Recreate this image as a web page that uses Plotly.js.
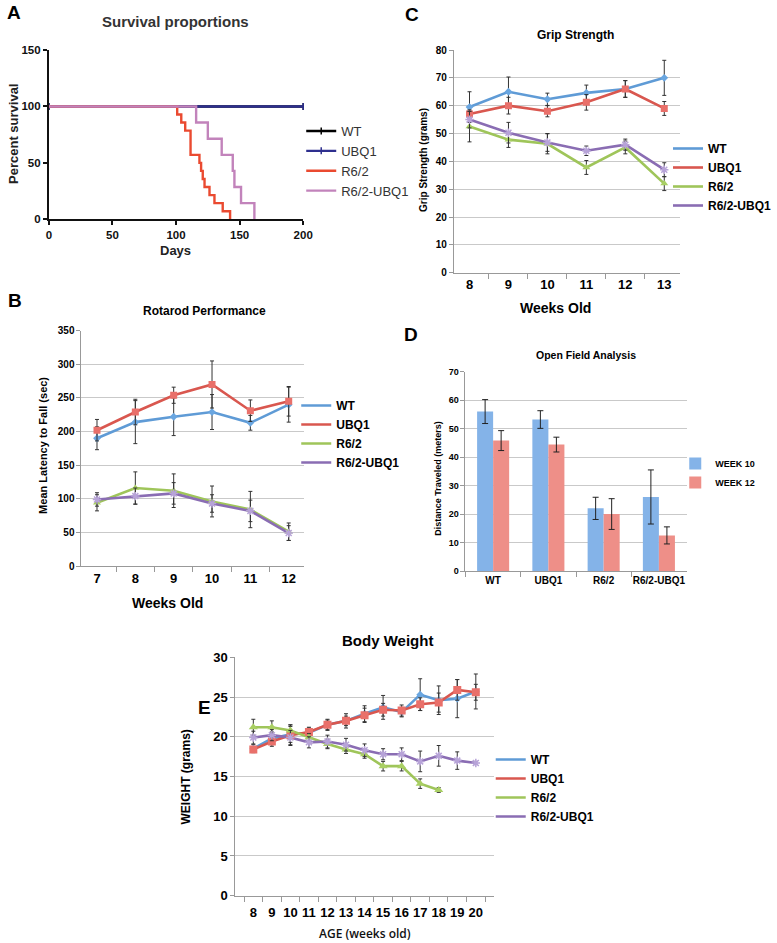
<!DOCTYPE html>
<html>
<head>
<meta charset="utf-8">
<script src="https://cdn.plot.ly/plotly-3.0.1.min.js"></script>
<style>html,body{margin:0;padding:0;background:#fff;}#chart{width:777px;height:943px;}</style>
</head>
<body>
<div id="chart"></div>
<script>
// ---------- DATA ----------
// Panel A: survival (Kaplan-Meier steps)
const survWT_days = [0, 200];
const survWT_pct = [100, 100];
const survUBQ1_days = [0, 200];
const survUBQ1_pct = [100, 100];
const survR62_days = [0, 100.9, 104.1, 107.2, 111.4, 118.4, 119.7, 121.0, 122.4, 126.3, 130.2, 136.7, 142.5];
const survR62_pct  = [100, 92.9, 85.7, 78.6, 57.1, 50.0, 42.9, 35.7, 28.6, 21.4, 14.3, 7.1, 0];
const survR62UBQ1_days = [0, 115.8, 125.0, 135.9, 144.6, 145.9, 151.1, 161.6];
const survR62UBQ1_pct  = [100, 85.7, 71.4, 57.1, 42.9, 28.6, 14.3, 0];

// Panel B: rotarod
const weeksB = [7, 8, 9, 10, 11, 12];
const rotWT = [190, 214, 222, 229, 213, 240];
const rotWT_err = [17, 32, 28, 26, 11, 26];
const rotUBQ1 = [202, 229, 254, 270, 231, 245];
const rotUBQ1_err = [16, 19, 12, 35, 16, 22];
const rotR62 = [94, 116, 112, 96, 84, 51];
const rotR62_err = [12, 24, 25, 23, 27, 13];
const rotR62UBQ1 = [99, 104, 108, 93, 82, 49];
const rotR62UBQ1_err = [10, 12, 16, 13, 16, 11];

// Panel C: grip strength
const weeksC = [8, 9, 10, 11, 12, 13];
const gripWT = [59.5, 65, 62.3, 64.6, 66, 70];
const gripWT_err = [5.5, 5.3, 2.2, 2.8, 3, 6.3];
const gripUBQ1 = [57, 60, 58, 61.2, 66, 59];
const gripUBQ1_err = [1.5, 3, 2, 2.8, 3, 2.5];
const gripR62 = [52.5, 47.8, 46.3, 37.8, 45, 32];
const gripR62_err = [5.5, 2.8, 3.6, 2.5, 2.3, 2.5];
const gripR62UBQ1 = [55, 50.3, 46.8, 43.8, 46, 37];
const gripR62UBQ1_err = [3, 3.7, 3.2, 1.7, 2, 2.5];

// Panel D: open field
const groupsD = ['WT', 'UBQ1', 'R6/2', 'R6/2-UBQ1'];
const ofWeek10 = [56, 53.2, 22, 26];
const ofWeek10_err = [4.2, 3.1, 3.9, 9.5];
const ofWeek12 = [45.8, 44.4, 20, 12.5];
const ofWeek12_err = [3.5, 2.6, 5.4, 3];

// Panel E: body weight
const weeksE = [8, 9, 10, 11, 12, 13, 14, 15, 16, 17, 18, 19, 20];
const bwWT = [18.5, 19.8, 20.3, 20.5, 21.5, 22.0, 22.9, 23.7, 23.1, 25.3, 24.6, 24.8, 25.7];
const bwWT_err = [0.5, 0.8, 1.0, 0.6, 0.7, 0.9, 1.0, 1.5, 0.6, 2.0, 1.8, 2.4, 2.2];
const bwUBQ1 = [18.4, 19.4, 20.2, 20.6, 21.5, 22.0, 22.7, 23.4, 23.3, 24.1, 24.3, 25.9, 25.6];
const bwUBQ1_err = [0.3, 0.6, 1.3, 0.6, 0.6, 0.6, 0.9, 0.8, 0.7, 0.8, 1.2, 1.3, 1.0];
const weeksE_R62 = [8, 9, 10, 11, 12, 13, 14, 15, 16, 17, 18];
const bwR62 = [21.2, 21.2, 20.8, 19.9, 19.1, 18.4, 17.8, 16.3, 16.3, 14.1, 13.3];
const bwR62_err = [1.0, 0.8, 0.7, 0.5, 0.6, 0.5, 0.5, 0.6, 0.6, 0.6, 0.3];
const bwR62UBQ1 = [19.9, 20.2, 19.9, 19.3, 19.4, 19.0, 18.3, 17.8, 17.8, 16.9, 17.6, 17.0, 16.7];
const bwR62UBQ1_err = [0.8, 0.7, 0.9, 0.7, 0.8, 0.8, 0.8, 0.7, 0.8, 1.3, 1.3, 1.1, 0.2];

// ---------- STYLE ----------
const W = 777, H = 943;
const px = x => x / W;
const py = y => 1 - y / H;
const FONT = 'Liberation Sans, Arial, Helvetica, sans-serif';
const cBlue = '#5f9bd6', cRed = '#d9574f', cGreen = '#9fc55a', cPurple = '#8a6db3';
const mBlue = '#6aa6e0', mRed = '#e9706a', mGreen = '#a9cf63', mPurple = '#b7a3d8';
const errStyle = (arr) => ({type: 'data', array: arr, visible: true, color: '#333', thickness: 1, width: 2});

// Each series: a line trace (shown in legend) + a marker trace with error bars
function seriesLine(x, y, name, col, xa, ya, leg) {
  return {type: 'scatter', mode: 'lines', x: x, y: y, name: name, xaxis: xa, yaxis: ya, legend: leg,
    line: {color: col, width: 2.6}};
}
function seriesMarks(x, y, err, name, mcol, sym, msize, xa, ya) {
  return {type: 'scatter', mode: 'markers', x: x, y: y, name: name, xaxis: xa, yaxis: ya, showlegend: false,
    marker: {symbol: sym, size: msize, color: mcol, line: {color: mcol, width: sym.indexOf('open') >= 0 ? 1.5 : 0}},
    error_y: errStyle(err)};
}

const traces = [];
// A
traces.push({type: 'scatter', mode: 'lines+markers', x: survWT_days, y: survWT_pct, name: 'WT', xaxis: 'x', yaxis: 'y', legend: 'legend',
  line: {color: '#000', width: 2.4, shape: 'hv'}, marker: {symbol: 'line-ns-open', size: 5, line: {color: '#000', width: 1.5}}, cliponaxis: false});
traces.push({type: 'scatter', mode: 'lines+markers', x: survUBQ1_days, y: survUBQ1_pct, name: 'UBQ1', xaxis: 'x', yaxis: 'y', legend: 'legend',
  line: {color: '#2e2f8e', width: 2.4, shape: 'hv'}, marker: {symbol: 'line-ns-open', size: 5, line: {color: '#2e2f8e', width: 1.5}}, cliponaxis: false});
traces.push({type: 'scatter', mode: 'lines', x: survR62_days, y: survR62_pct, name: 'R6/2', xaxis: 'x', yaxis: 'y', legend: 'legend',
  line: {color: '#ea4a30', width: 2.4, shape: 'hv'}});
traces.push({type: 'scatter', mode: 'lines', x: survR62UBQ1_days, y: survR62UBQ1_pct, name: 'R6/2-UBQ1', xaxis: 'x', yaxis: 'y', legend: 'legend',
  line: {color: '#c283bb', width: 2.4, shape: 'hv'}});

// B
traces.push(seriesLine(weeksB, rotWT, 'WT', cBlue, 'x2', 'y2', 'legend2'));
traces.push(seriesLine(weeksB, rotUBQ1, 'UBQ1', cRed, 'x2', 'y2', 'legend2'));
traces.push(seriesLine(weeksB, rotR62, 'R6/2', cGreen, 'x2', 'y2', 'legend2'));
traces.push(seriesLine(weeksB, rotR62UBQ1, 'R6/2-UBQ1', cPurple, 'x2', 'y2', 'legend2'));
traces.push(seriesMarks(weeksB, rotWT, rotWT_err, 'WT', mBlue, 'diamond', 6, 'x2', 'y2'));
traces.push(seriesMarks(weeksB, rotUBQ1, rotUBQ1_err, 'UBQ1', mRed, 'square', 7, 'x2', 'y2'));
traces.push(seriesMarks(weeksB, rotR62, rotR62_err, 'R6/2', mGreen, 'triangle-up', 7, 'x2', 'y2'));
traces.push(seriesMarks(weeksB, rotR62UBQ1, rotR62UBQ1_err, 'R6/2-UBQ1', mPurple, 'asterisk-open', 7, 'x2', 'y2'));

// C
traces.push(seriesLine(weeksC, gripWT, 'WT', cBlue, 'x3', 'y3', 'legend3'));
traces.push(seriesLine(weeksC, gripUBQ1, 'UBQ1', cRed, 'x3', 'y3', 'legend3'));
traces.push(seriesLine(weeksC, gripR62, 'R6/2', cGreen, 'x3', 'y3', 'legend3'));
traces.push(seriesLine(weeksC, gripR62UBQ1, 'R6/2-UBQ1', cPurple, 'x3', 'y3', 'legend3'));
traces.push(seriesMarks(weeksC, gripWT, gripWT_err, 'WT', mBlue, 'diamond', 6, 'x3', 'y3'));
traces.push(seriesMarks(weeksC, gripUBQ1, gripUBQ1_err, 'UBQ1', mRed, 'square', 7, 'x3', 'y3'));
traces.push(seriesMarks(weeksC, gripR62, gripR62_err, 'R6/2', mGreen, 'triangle-up', 7, 'x3', 'y3'));
traces.push(seriesMarks(weeksC, gripR62UBQ1, gripR62UBQ1_err, 'R6/2-UBQ1', mPurple, 'asterisk-open', 7, 'x3', 'y3'));

// D
traces.push({type: 'bar', x: groupsD, y: ofWeek10, name: 'WEEK 10', xaxis: 'x4', yaxis: 'y4', legend: 'legend4',
  marker: {color: '#84b3e8'}, error_y: {type: 'data', array: ofWeek10_err, color: '#222', thickness: 1, width: 3}});
traces.push({type: 'bar', x: groupsD, y: ofWeek12, name: 'WEEK 12', xaxis: 'x4', yaxis: 'y4', legend: 'legend4',
  marker: {color: '#ee8f88'}, error_y: {type: 'data', array: ofWeek12_err, color: '#222', thickness: 1, width: 3}});

// E
traces.push(seriesLine(weeksE, bwWT, 'WT', cBlue, 'x5', 'y5', 'legend5'));
traces.push(seriesLine(weeksE, bwUBQ1, 'UBQ1', cRed, 'x5', 'y5', 'legend5'));
traces.push(seriesLine(weeksE_R62, bwR62, 'R6/2', cGreen, 'x5', 'y5', 'legend5'));
traces.push(seriesLine(weeksE, bwR62UBQ1, 'R6/2-UBQ1', cPurple, 'x5', 'y5', 'legend5'));
traces.push(seriesMarks(weeksE, bwWT, bwWT_err, 'WT', mBlue, 'diamond', 6, 'x5', 'y5'));
traces.push(seriesMarks(weeksE, bwUBQ1, bwUBQ1_err, 'UBQ1', mRed, 'square', 8, 'x5', 'y5'));
traces.push(seriesMarks(weeksE_R62, bwR62, bwR62_err, 'R6/2', mGreen, 'triangle-up', 8, 'x5', 'y5'));
traces.push(seriesMarks(weeksE, bwR62UBQ1, bwR62UBQ1_err, 'R6/2-UBQ1', mPurple, 'asterisk-open', 7, 'x5', 'y5'));

// ---------- LAYOUT ----------
const excelX = (domain, fsize) => ({
  domain: domain, type: 'category', tickson: 'boundaries', ticks: 'outside', ticklen: 5, tickcolor: '#999', tickwidth: 1,
  showline: true, linecolor: '#999', linewidth: 1, showgrid: false, zeroline: false, tickangle: 0,
  tickfont: {family: FONT, size: fsize, color: '#000', weight: 'bold'}, fixedrange: true
});
const excelY = (domain, range, dtick, fsize) => ({
  domain: domain, range: range, dtick: dtick, ticks: 'outside', ticklen: 4, tickcolor: '#999', tickwidth: 1,
  showline: true, linecolor: '#999', linewidth: 1, showgrid: true, gridcolor: '#c9c9c9', gridwidth: 1, zeroline: false,
  tickfont: {family: FONT, size: fsize, color: '#000', weight: 'bold'}, fixedrange: true
});

const ann = (text, x, y, size, opts) => Object.assign({
  text: text, x: px(x), y: py(y), xref: 'paper', yref: 'paper', showarrow: false,
  xanchor: 'center', yanchor: 'middle',
  font: {family: FONT, size: size, color: '#000', weight: 'bold'}
}, opts || {});

const legendBase = (x, y, size, weight, color) => ({
  x: px(x), y: py(y), xref: 'paper', yref: 'paper', xanchor: 'left', yanchor: 'top',
  bgcolor: 'rgba(0,0,0,0)', borderwidth: 0, itemwidth: 30, itemclick: false, itemdoubleclick: false,
  font: {family: FONT, size: size, color: color || '#000', weight: weight}
});

const layout = {
  width: W, height: H, margin: {l: 0, r: 0, t: 0, b: 0},
  paper_bgcolor: '#fff', plot_bgcolor: 'rgba(0,0,0,0)', showlegend: true,
  font: {family: FONT},
  // A
  xaxis: {domain: [px(49), px(304)], range: [0, 200], dtick: 50, ticks: 'outside', ticklen: 4, tickwidth: 2, tickcolor: '#111',
    showline: true, linecolor: '#111', linewidth: 2, showgrid: false, zeroline: false, anchor: 'y', tickangle: 0,
    tickfont: {family: FONT, size: 11.5, color: '#111', weight: 'bold'}, fixedrange: true},
  yaxis: {domain: [py(219.3), py(50)], range: [0, 150], dtick: 50, ticks: 'outside', ticklen: 4, tickwidth: 2, tickcolor: '#111',
    showline: true, linecolor: '#111', linewidth: 2, showgrid: false, zeroline: false, anchor: 'x',
    tickfont: {family: FONT, size: 11.5, color: '#111', weight: 'bold'}, fixedrange: true},
  // B
  xaxis2: Object.assign(excelX([px(81.7), px(305)], 13), {anchor: 'y2'}),
  yaxis2: Object.assign(excelY([py(566), py(330.7)], [0, 350], 50, 10), {anchor: 'x2'}),
  // C
  xaxis3: Object.assign(excelX([px(455), px(681.7)], 13), {anchor: 'y3'}),
  yaxis3: Object.assign(excelY([py(272.7), py(50)], [0, 80], 10, 10), {anchor: 'x3'}),
  // D
  xaxis4: Object.assign(excelX([px(466.7), px(688.3)], 10), {anchor: 'y4'}),
  yaxis4: Object.assign(excelY([py(571), py(371.7)], [0, 70], 10, 9), {anchor: 'x4'}),
  barmode: 'group', bargap: 0.42, bargroupgap: 0,
  // E
  xaxis5: Object.assign(excelX([px(236), px(495)], 13), {anchor: 'y5', ticklabelstandoff: 5}),
  yaxis5: Object.assign(excelY([py(895.7), py(657.3)], [0, 30], 5, 13), {anchor: 'x5'}),

  legend: legendBase(302, 116, 13, 'normal', '#333'),
  legend2: legendBase(297, 391, 12, 'bold'),
  legend3: legendBase(670, 134, 12, 'bold'),
  legend4: legendBase(677, 449, 9, 'bold'),
  legend5: legendBase(492, 745, 12, 'bold'),

  annotations: [
    ann('A', 14, 12, 19),
    ann('Survival proportions', 176, 22, 15, {font: {family: FONT, size: 15, color: '#333', weight: 'bold'}}),
    ann('Percent survival', 13, 134, 13, {textangle: -90, font: {family: FONT, size: 13, color: '#222', weight: 'bold'}}),
    ann('Days', 176, 250, 13, {font: {family: FONT, size: 13, color: '#222', weight: 'bold'}}),

    ann('B', 15, 301, 19),
    ann('Rotarod Performance', 205, 311, 12),
    ann('Mean Latency to Fall (sec)', 43, 445, 11, {textangle: -90}),
    ann('Weeks Old', 168, 603, 14),

    ann('C', 413, 15, 19),
    ann('Grip Strength', 577, 35, 12),
    ann('Grip Strength (grams)', 425, 160, 10, {textangle: -90}),
    ann('Weeks Old', 557, 308, 14),

    ann('D', 412, 335, 19),
    ann('Open Field Analysis', 588, 355, 10.5),
    ann('Distance Traveled (meters)', 439, 478, 9, {textangle: -90}),

    ann('E', 205, 707, 19),
    ann('Body Weight', 388, 640, 15),
    ann('WEIGHT (grams)', 186, 777, 12, {textangle: -90}),
    ann('AGE (weeks old)', 366, 933, 12, {font: {family: 'Open Sans, ' + FONT, size: 12, color: '#111', weight: 600}})
  ]
};

Plotly.newPlot('chart', traces, layout, {displayModeBar: false, staticPlot: true});
</script>
</body>
</html>
